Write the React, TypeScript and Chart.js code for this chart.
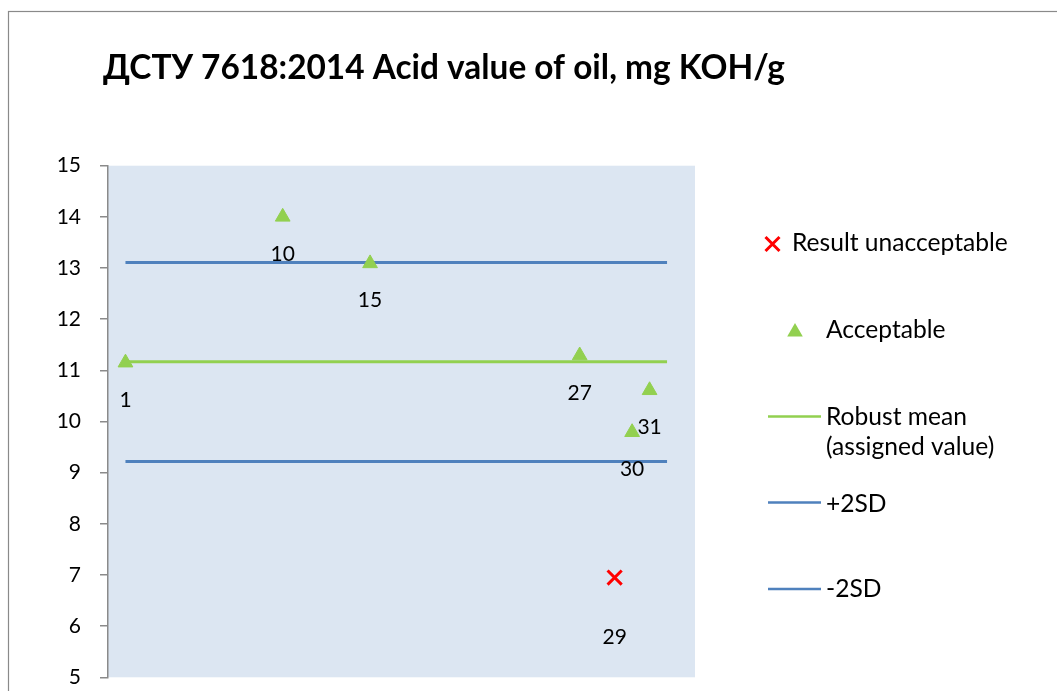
import React, { useEffect, useRef } from "react";
import { Chart, registerables } from "chart.js";
Chart.register(...registerables);

const TITLE = "ДСТУ 7618:2014 Acid value of oil, mg KOH/g";
const acceptableIds = [1, 10, 15, 27, 30, 31];
const acceptableValues = [11.15, 14.0, 13.09, 11.29, 9.79, 10.61];
const unacceptableIds = [29];
const unacceptableValues = [6.95];
const lineXs = [1, 32];
const robustMean = 11.17;
const plus2SD = 13.11;
const minus2SD = 9.22;
const yMin = 5;
const yMax = 15;
const legendLabels = ["Result unacceptable", "Acceptable", "Robust mean", "(assigned value)", "+2SD", "-2SD"];

const FONT = "Lato, 'Open Sans', sans-serif";
const GREEN = "#92d050";
const BLUE = "#4f81bd";
const RED = "#ff0000";
const W = 1057;
const H = 691;

const overlay = {
  id: "overlay",
  beforeDraw(chart: any) {
    const { ctx } = chart;
    const xs = chart.scales.x;
    const ys = chart.scales.y;
    const top = ys.getPixelForValue(yMax);
    const bottom = ys.getPixelForValue(yMin);
    ctx.save();
    ctx.fillStyle = "#ffffff";
    ctx.fillRect(0, 0, chart.width, chart.height);
    ctx.fillStyle = "#dce6f2";
    ctx.fillRect(xs.left, top, xs.right - xs.left, bottom - top);
    ctx.restore();
  },
  afterDraw(chart: any) {
    const { ctx } = chart;
    ctx.save();
    // frame
    ctx.strokeStyle = "#8a8a8a";
    ctx.lineWidth = 1.2;
    ctx.strokeRect(8.5, 11.5, 2000, 2000);
    // title
    ctx.fillStyle = "#000";
    ctx.font = `bold 33.4px ${FONT}`;
    ctx.textBaseline = "alphabetic";
    ctx.textAlign = "left";
    ctx.fillText(TITLE, 103, 79);

    // data labels
    ctx.font = `21px ${FONT}`;
    ctx.textAlign = "center";
    const xs = chart.scales.x;
    const ys = chart.scales.y;
    acceptableIds.forEach((id, i) => {
      ctx.fillText(String(id), xs.getPixelForValue(id), ys.getPixelForValue(acceptableValues[i]) + 44);
    });
    unacceptableIds.forEach((id, i) => {
      ctx.fillText(String(id), xs.getPixelForValue(id), ys.getPixelForValue(unacceptableValues[i]) + 66);
    });

    // legend
    ctx.textAlign = "left";
    ctx.font = `24.6px ${FONT}`;
    // red cross
    ctx.strokeStyle = RED;
    ctx.lineWidth = 3;
    const cx = 772.5, cy = 244, r = 7;
    ctx.beginPath();
    ctx.moveTo(cx - r, cy - r);
    ctx.lineTo(cx + r, cy + r);
    ctx.moveTo(cx + r, cy - r);
    ctx.lineTo(cx - r, cy + r);
    ctx.stroke();
    ctx.fillText(legendLabels[0], 792, 251);
    // triangle
    ctx.fillStyle = GREEN;
    const tx = 795, ty = 332, tr = 9;
    ctx.beginPath();
    ctx.moveTo(tx, ty - tr);
    ctx.lineTo(tx + tr * 0.866, ty + tr * 0.5);
    ctx.lineTo(tx - tr * 0.866, ty + tr * 0.5);
    ctx.closePath();
    ctx.fill();
    ctx.fillStyle = "#000";
    ctx.fillText(legendLabels[1], 826, 338);
    // lines
    const seg = (y: number, c: string) => {
      ctx.strokeStyle = c;
      ctx.lineWidth = 2.5;
      ctx.beginPath();
      ctx.moveTo(768, y);
      ctx.lineTo(821, y);
      ctx.stroke();
    };
    seg(416.5, GREEN);
    ctx.fillText(legendLabels[2], 826, 425);
    ctx.fillText(legendLabels[3], 826, 455);
    seg(502.5, BLUE);
    ctx.fillText(legendLabels[4], 826, 511.5);
    seg(589, BLUE);
    ctx.fillText(legendLabels[5], 826, 597);
    ctx.restore();
  },
};

export default function App() {
  const ref = useRef<HTMLCanvasElement | null>(null);
  useEffect(() => {
    document.body.style.margin = "0";
    const ctx = ref.current!.getContext("2d")!;
    const chart = new Chart(ctx, {
      type: "scatter",
      data: {
        datasets: [
          {
            label: "Result unacceptable",
            data: unacceptableIds.map((x, i) => ({ x, y: unacceptableValues[i] })),
            pointStyle: "crossRot",
            pointRadius: 10,
            borderColor: RED,
            backgroundColor: RED,
            borderWidth: 3,
            showLine: false,
          },
          {
            label: "Acceptable",
            data: acceptableIds.map((x, i) => ({ x, y: acceptableValues[i] })),
            pointStyle: "triangle",
            pointRadius: 8.5,
            borderColor: GREEN,
            backgroundColor: GREEN,
            borderWidth: 1,
            showLine: false,
          },
          {
            label: "Robust mean (assigned value)",
            data: lineXs.map((x) => ({ x, y: robustMean })),
            showLine: true,
            pointRadius: 0,
            borderColor: GREEN,
            borderWidth: 3,
          },
          {
            label: "+2SD",
            data: lineXs.map((x) => ({ x, y: plus2SD })),
            showLine: true,
            pointRadius: 0,
            borderColor: BLUE,
            borderWidth: 3,
          },
          {
            label: "-2SD",
            data: lineXs.map((x) => ({ x, y: minus2SD })),
            showLine: true,
            pointRadius: 0,
            borderColor: BLUE,
            borderWidth: 3,
          },
        ],
      },
      options: {
        animation: false,
        responsive: false,
        maintainAspectRatio: false,
        devicePixelRatio: 1,
        layout: { padding: { top: 165.7, right: 362, bottom: 13.7, left: 0 } },
        plugins: { legend: { display: false }, tooltip: { enabled: false }, title: { display: false } },
        scales: {
          x: { type: "linear", min: 0, max: 33.6, display: false },
          y: {
            min: yMin,
            max: yMax,
            afterFit: (s: any) => {
              s.width = 108;
              s.paddingTop = 0;
              s.paddingBottom = 0;
            },
            ticks: { stepSize: 1, color: "#000", font: { family: FONT, size: 21 }, padding: 19 },
            grid: { drawOnChartArea: false, drawTicks: true, tickLength: 8, color: "#8a8a8a", lineWidth: 1.5 },
            border: { display: true, color: "#8a8a8a", width: 1.5 },
          },
        },
      },
      plugins: [overlay],
    });
    return () => chart.destroy();
  }, []);
  return (
    <div style={{ position: "absolute", left: 0, top: 0, width: W, height: H }}>
      <canvas ref={ref} width={W} height={H} style={{ display: "block", width: W, height: H }} />
    </div>
  );
}
